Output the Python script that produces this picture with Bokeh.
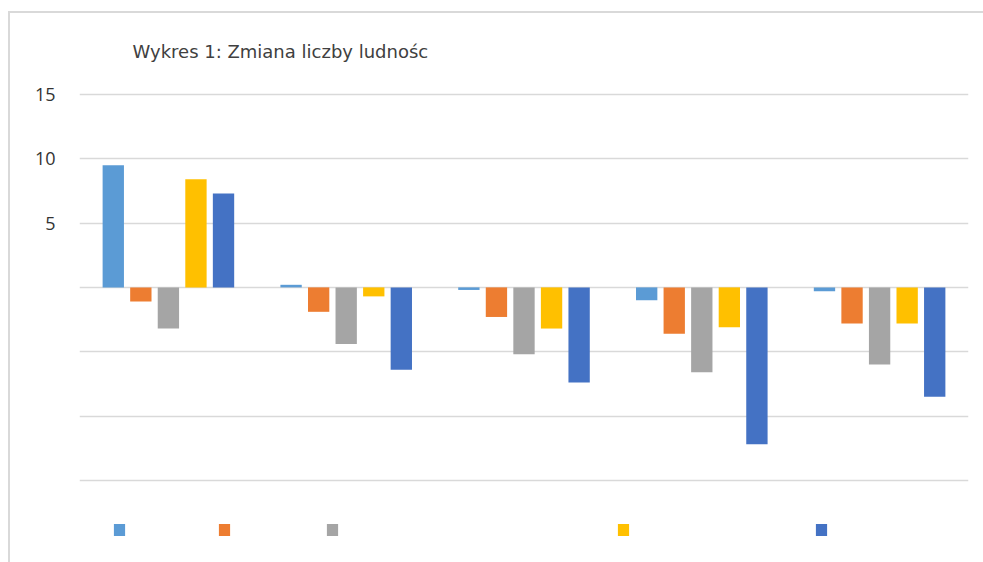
from bokeh.plotting import figure
from bokeh.models import FactorRange, Legend, LegendItem, Range1d, FixedTicker
from bokeh.core.properties import value
from bokeh.transform import dodge
from bokeh.embed import file_html
from bokeh.resources import INLINE
from bokeh.models import ColumnDataSource

title_text = "Wykres 1: Zmiana liczby ludnośc"
groups = ["1", "2", "3", "4", "5"]
series_names = ["s1", "s2", "s3", "s4", "s5"]
s1 = [9.5, 0.2, -0.2, -1.0, -0.3]
s2 = [-1.1, -1.9, -2.3, -3.6, -2.8]
s3 = [-3.2, -4.4, -5.2, -6.6, -6.0]
s4 = [8.4, -0.7, -3.2, -3.1, -2.8]
s5 = [7.3, -6.4, -7.4, -12.2, -8.5]
colors = ["#5B9BD5", "#ED7D31", "#A5A5A5", "#FFC000", "#4472C4"]
y_ticks = [15, 10, 5, 0, -5, -10, -15]
y_tick_labels = {15: "15", 10: "10", 5: "5", 0: "", -5: "", -10: "", -15: ""}

src = ColumnDataSource(dict(g=groups, s1=s1, s2=s2, s3=s3, s4=s4, s5=s5))

p = figure(width=983, height=562, x_range=FactorRange(*groups, range_padding=0.0),
           y_range=Range1d(-19.6, 15.15), output_backend="svg", toolbar_location=None,
           min_border_left=79, min_border_right=15, min_border_top=92, min_border_bottom=23)
p.x_range.factor_padding = 0.0
p.border_fill_color = None
p.background_fill_color = None
p.styles = {
    "background-color": "white",
    "background-image": "linear-gradient(#d9d9d9, #d9d9d9), linear-gradient(#d9d9d9, #d9d9d9)",
    "background-size": "2px 100%, 100% 2px",
    "background-position": "8px 11px, 8px 11px",
    "background-repeat": "no-repeat",
}

p.title.text = title_text
p.title.text_font = "DejaVu Sans"
p.title.text_font_size = "18px"
p.title.text_font_style = "normal"
p.title.text_color = "#404040"
p.title.offset = 53
p.title.standoff = 62

offsets = [-0.31, -0.155, 0.0, 0.155, 0.31]
renderers = []
for i, name in enumerate(series_names):
    r = p.vbar(x=dodge("g", offsets[i], range=p.x_range), top=name, bottom=0, width=0.12,
               source=src, fill_color=colors[i], line_color=None)
    renderers.append(r)

p.xaxis.visible = False
p.xgrid.grid_line_color = None
p.ygrid.grid_line_color = "#d9d9d9"
p.ygrid.grid_line_width = 1.5
p.yaxis.ticker = FixedTicker(ticks=y_ticks)
p.yaxis.major_label_overrides = y_tick_labels
p.yaxis.axis_line_color = None
p.yaxis.major_tick_line_color = None
p.yaxis.minor_tick_line_color = None
p.yaxis.major_label_text_font = "Open Sans"
p.yaxis.major_label_text_font_size = "18px"
p.yaxis.major_label_text_color = "#333333"
p.yaxis.major_label_standoff = 18
p.outline_line_color = None

# legend swatches (labels are not shown in the reference)
legend_x = [33, 138, 246, 537, 735]
for x, r in zip(legend_x, renderers):
    lg = Legend(items=[LegendItem(label=value(""), renderers=[r])], location=(x, 2),
                glyph_width=14, glyph_height=15, label_standoff=0, spacing=0,
                label_width=0, label_height=12, label_text_font_size="8px",
                padding=0, margin=0,
                border_line_color=None, background_fill_alpha=0)
    p.add_layout(lg, "center")

open("out.html", "w").write(file_html(p, INLINE))
